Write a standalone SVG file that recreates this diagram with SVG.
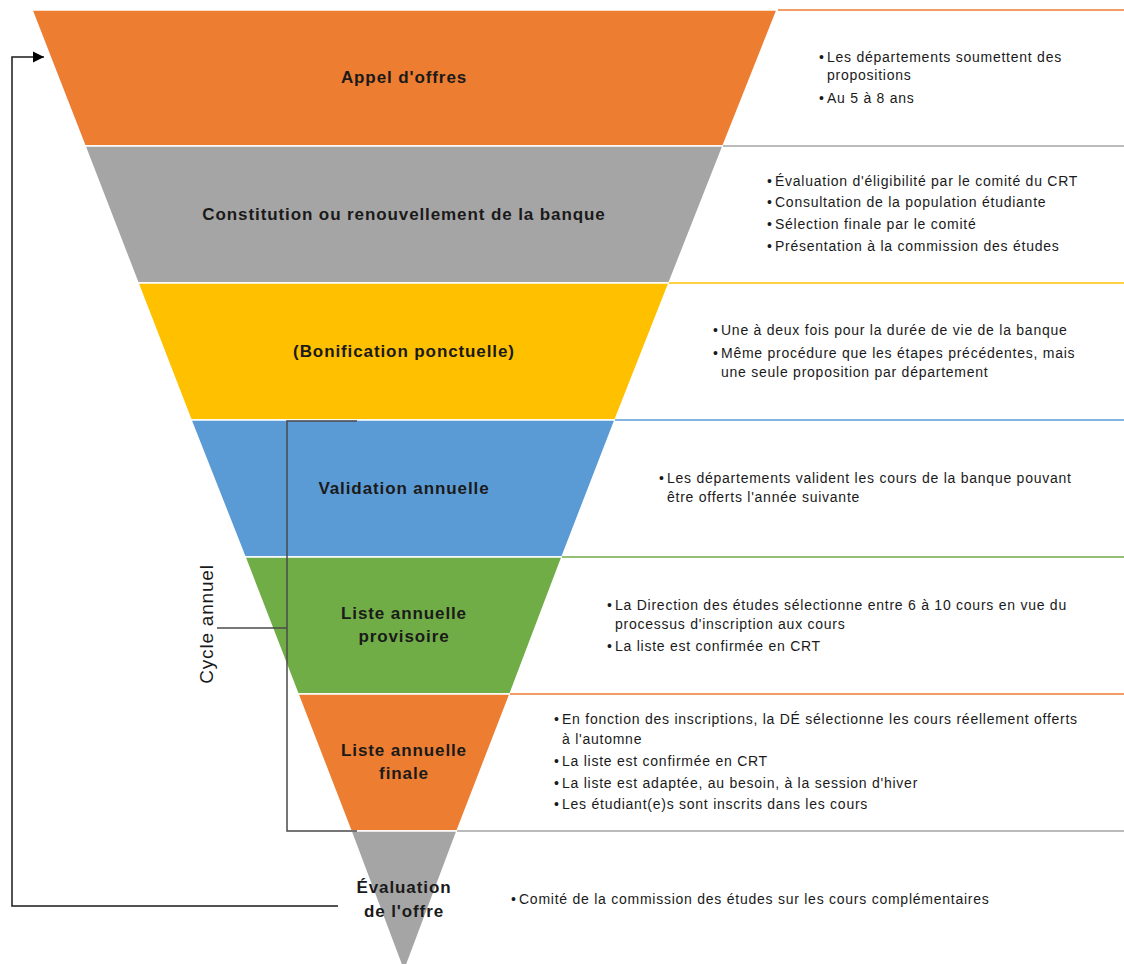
<svg xmlns="http://www.w3.org/2000/svg" width="1124" height="964" viewBox="0 0 1124 964">
<style>
.band{stroke:#fff;stroke-width:1.5}
.lbl{font-family:"Liberation Sans",Arial,sans-serif;font-weight:bold;font-size:17px;letter-spacing:0.9px;fill:#1a1a1a;text-anchor:middle}
.bul{font-family:"Liberation Sans",Arial,sans-serif;font-size:14px;letter-spacing:0.75px;fill:#1a1a1a}
.sep{stroke-width:1.5;fill:none}
.brk{stroke:#4a4a4a;stroke-width:1.5;fill:none}
</style>
<defs>
<marker id="ah" markerWidth="12" markerHeight="12" refX="11" refY="6" orient="auto" markerUnits="userSpaceOnUse">
<path d="M0,0.5 L11,6 L0,11.5 z" fill="#000"/>
</marker>
</defs>
<rect width="1124" height="964" fill="#fff"/>

<g id="n1">
<polygon class="band" fill="#ED7D31" points="32,10 777,10 723,146 85,146"/>
<line class="sep" stroke="#ED7D31" x1="778" y1="10" x2="1124" y2="10"/>
<text class="lbl" x="404" y="83">Appel d'offres</text>
<text class="bul"><tspan x="819" y="62">•</tspan><tspan x="827" y="62">Les départements soumettent des</tspan><tspan x="827" y="80">propositions</tspan><tspan x="819" y="103">•</tspan><tspan x="827" y="103">Au 5 à 8 ans</tspan></text>
</g>

<g id="n2">
<polygon class="band" fill="#A5A5A5" points="85,146 723,146 669,283 138,283"/>
<line class="sep" stroke="#A5A5A5" x1="723" y1="146" x2="1124" y2="146"/>
<text class="lbl" x="404" y="220">Constitution ou renouvellement de la banque</text>
<text class="bul"><tspan x="767" y="186">•</tspan><tspan x="775" y="186">Évaluation d'éligibilité par le comité du CRT</tspan><tspan x="767" y="207">•</tspan><tspan x="775" y="207">Consultation de la population étudiante</tspan><tspan x="767" y="229">•</tspan><tspan x="775" y="229">Sélection finale par le comité</tspan><tspan x="767" y="251">•</tspan><tspan x="775" y="251">Présentation à la commission des études</tspan></text>
</g>

<g id="n3">
<polygon class="band" fill="#FFC000" points="138,283 669,283 615,420 191,420"/>
<line class="sep" stroke="#FFC000" x1="669" y1="283" x2="1124" y2="283"/>
<text class="lbl" x="404" y="357">(Bonification ponctuelle)</text>
<text class="bul"><tspan x="713" y="335">•</tspan><tspan x="721" y="335">Une à deux fois pour la durée de vie de la banque</tspan><tspan x="713" y="358">•</tspan><tspan x="721" y="358">Même procédure que les étapes précédentes, mais</tspan><tspan x="721" y="377">une seule proposition par département</tspan></text>
</g>

<g id="n4">
<polygon class="band" fill="#5B9BD5" points="191,420 615,420 562,557 245,557"/>
<line class="sep" stroke="#5B9BD5" x1="615" y1="420" x2="1124" y2="420"/>
<text class="lbl" x="404" y="494">Validation annuelle</text>
<text class="bul"><tspan x="659" y="483">•</tspan><tspan x="667" y="483">Les départements valident les cours de la banque pouvant</tspan><tspan x="667" y="502">être offerts l'année suivante</tspan></text>
</g>

<g id="n5">
<polygon class="band" fill="#70AD47" points="245,557 562,557 510,694 298,694"/>
<line class="sep" stroke="#70AD47" x1="562" y1="557" x2="1124" y2="557"/>
<text class="lbl" x="404" y="619">Liste annuelle</text>
<text class="lbl" x="404" y="642">provisoire</text>
<text class="bul"><tspan x="607" y="610">•</tspan><tspan x="615" y="610">La Direction des études sélectionne entre 6 à 10 cours en vue du</tspan><tspan x="615" y="629">processus d'inscription aux cours</tspan><tspan x="607" y="651">•</tspan><tspan x="615" y="651">La liste est confirmée en CRT</tspan></text>
</g>

<g id="n6">
<polygon class="band" fill="#ED7D31" points="298,694 510,694 457,831 351,831"/>
<line class="sep" stroke="#ED7D31" x1="510" y1="694" x2="1124" y2="694"/>
<text class="lbl" x="404" y="756">Liste annuelle</text>
<text class="lbl" x="404" y="779">finale</text>
<text class="bul"><tspan x="554" y="724">•</tspan><tspan x="562" y="724">En fonction des inscriptions, la DÉ sélectionne les cours réellement offerts</tspan><tspan x="562" y="744">à l'automne</tspan><tspan x="554" y="766">•</tspan><tspan x="562" y="766">La liste est confirmée en CRT</tspan><tspan x="554" y="788">•</tspan><tspan x="562" y="788">La liste est adaptée, au besoin, à la session d'hiver</tspan><tspan x="554" y="809">•</tspan><tspan x="562" y="809">Les étudiant(e)s sont inscrits dans les cours</tspan></text>
</g>

<g id="n7">
<polygon class="band" fill="#A5A5A5" points="351,831 457,831 404,972"/>
<line class="sep" stroke="#A5A5A5" x1="457" y1="831" x2="1124" y2="831"/>
<text class="lbl" x="404" y="893">Évaluation</text>
<text class="lbl" x="404" y="917">de l'offre</text>
<text class="bul"><tspan x="511" y="904">•</tspan><tspan x="519" y="904">Comité de la commission des études sur les cours complémentaires</tspan></text>
</g>

<g id="cycle">
<path class="brk" d="M357,421 H287 V831 H357"/>
<line class="brk" x1="217" y1="628" x2="287" y2="628"/>
<text font-family="'Liberation Sans',Arial,sans-serif" font-size="19" letter-spacing="0.8" fill="#1a1a1a" text-anchor="middle" transform="translate(213,624) rotate(-90)">Cycle annuel</text>
</g>

<g id="connectors">
<path d="M338,906 H12 V57 H44" fill="none" stroke="#1a1a1a" stroke-width="1.5" marker-end="url(#ah)"/>
</g>
</svg>
